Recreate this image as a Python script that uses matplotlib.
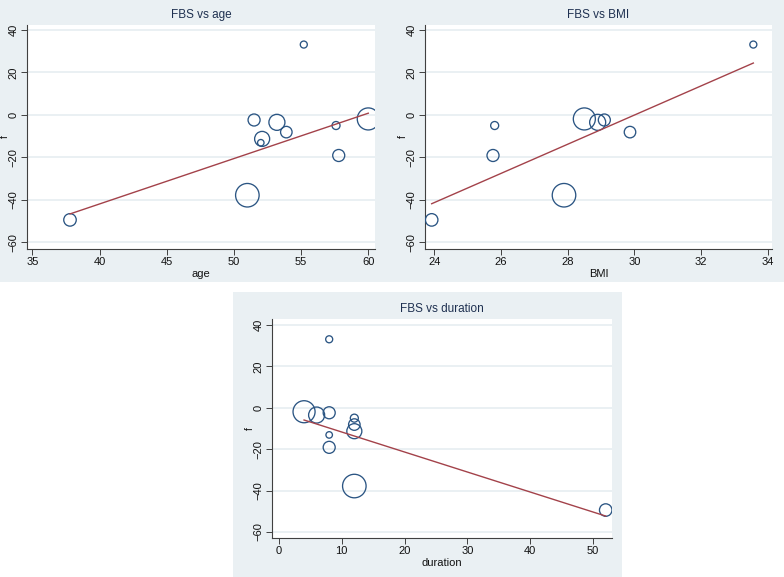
import matplotlib
matplotlib.use('Agg')
import matplotlib.pyplot as plt
from matplotlib.patches import Rectangle
import numpy as np

plt.rcParams['font.family'] = ['Liberation Sans', 'DejaVu Sans']

# Data (one entry per subject)
f_vals = [-49.4, -37.8, -2.4, -11.3, -13.1, -3.5, -8.1, 33.1, -5.0, -19.1, -1.9]
age = [37.8, 51.0, 51.5, 52.1, 52.0, 53.2, 53.9, 55.2, 57.6, 57.8, 60.0]
bmi = [23.92, 27.89, 29.1, np.nan, np.nan, 28.9, 29.87, 33.57, 25.81, 25.76, 28.5]
duration = [52, 12, 8, 12, 8, 6, 12, 8, 12, 8, 4]
weight = [156, 552, 144, 225, 42, 256, 132, 49, 64, 144, 484]

# fitted line ends (x range of the data -> fitted f)
age_fit = [-46.6, 0.8]
bmi_fit = [-41.8, 24.4]
duration_fit = [-5.9, -52.3]

W, H = 784, 577
bg_col = '#EAF0F3'
navy = '#2b5583'
maroon = '#a3424a'


def px_rect(l, t, r, b):
	return [l / W, (H - b) / H, (r - l) / W, (b - t) / H]


def panel(box, axbox, x, fit, title, xlab, xlim, ylim, xticks, ylab_off):
	l, t, r, b = box
	fig.patches.append(Rectangle(((l) / W, (H - b) / H), (r - l) / W, (b - t) / H,
		transform=fig.transFigure, facecolor=bg_col, edgecolor='none', zorder=-5))
	ax = fig.add_axes(px_rect(*axbox))
	ax.set_zorder(2)
	ax.set_facecolor('white')
	x = np.array(x, dtype=float)
	y = np.array(f_vals)
	w = np.array(weight, dtype=float)
	ok = ~np.isnan(x)
	ax.scatter(x[ok], y[ok], s=w[ok] * 0.52, facecolors='none', edgecolors=navy,
		linewidths=0.95, zorder=3)
	xs = [x[ok].min(), x[ok].max()]
	ax.plot(xs, fit, color=maroon, lw=1.0, zorder=4)
	ax.set_xlim(xlim)
	ax.set_ylim(ylim)
	ax.set_xticks(xticks)
	ax.set_yticks([-60, -40, -20, 0, 20, 40])
	ax.yaxis.grid(True, color='#E6EEF1', lw=1.2)
	ax.set_axisbelow(True)
	for s in ['top', 'right']:
		ax.spines[s].set_visible(False)
	for s in ['left', 'bottom']:
		ax.spines[s].set_color('#404040')
		ax.spines[s].set_linewidth(0.8)
	ax.tick_params(direction='out', length=4, width=0.7, color='#404040',
		labelsize=8, labelcolor='#111111', pad=2)
	plt.setp(ax.get_yticklabels(), rotation=90, va='center')
	ax.set_title(title, fontsize=8.5, color='#1e3050', pad=5)
	ax.set_xlabel(xlab, fontsize=8, color='#111111', labelpad=1)
	ax.set_ylabel('f', fontsize=7.5, color='#111111')
	ax.yaxis.set_label_coords(-ylab_off / (axbox[2] - axbox[0]), 0.5)
	return ax


fig = plt.figure(figsize=(W / 100, H / 100), dpi=100)
fig.patch.set_facecolor('white')

panel((0, 0, 392, 282), (27, 25, 375, 249), age, age_fit, 'FBS vs age', 'age',
	(34.6, 60.5), (-63.1, 42.3), [35, 40, 45, 50, 55, 60], 17)
panel((392, 0, 784, 282), (425, 25, 772, 249), bmi, bmi_fit, 'FBS vs BMI', 'BMI',
	(23.72, 34.13), (-63.1, 42.3), [24, 26, 28, 30, 32, 34], 17)
panel((233, 292, 622, 577), (272, 319, 612, 538), duration, duration_fit,
	'FBS vs duration', 'duration', (-1.1, 53.0), (-62.9, 42.9), [0, 10, 20, 30, 40, 50], 17)

fig.savefig('out.png', dpi=100, facecolor='white')
